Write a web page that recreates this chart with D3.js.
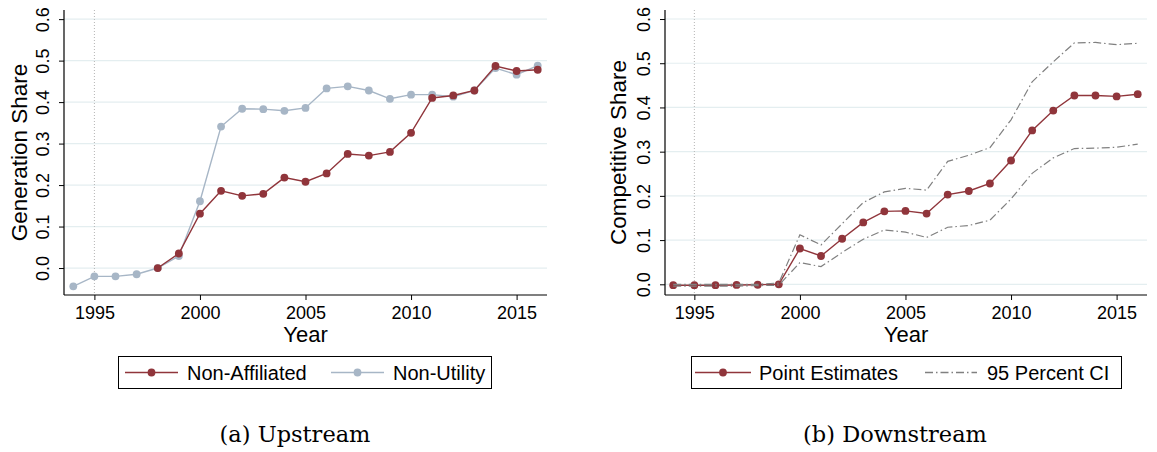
<!DOCTYPE html>
<html>
<head>
<meta charset="utf-8">
<script src="https://cdn.jsdelivr.net/npm/d3@7"></script>
<style>
  html, body { margin: 0; padding: 0; background: #fff; }
  svg { display: block; }
</style>
</head>
<body>
<svg id="chart" width="1157" height="452"></svg>
<script>
// Years shared by both panels
const years = d3.range(1994, 2017);
const xTicks = [1995, 2000, 2005, 2010, 2015];
const yTicks = [0.0, 0.1, 0.2, 0.3, 0.4, 0.5, 0.6];

// (a) Upstream: generation share
const nonUtility = [-0.044, -0.020, -0.020, -0.015, 0.000, 0.029, 0.161, 0.341, 0.384, 0.383,
                    0.379, 0.386, 0.433, 0.438, 0.428, 0.408, 0.418, 0.418, 0.413, 0.428,
                    0.482, 0.466, 0.488];
const nonAffiliated = [null, null, null, null, 0.000, 0.035, 0.131, 0.186, 0.174, 0.179,
                       0.218, 0.208, 0.228, 0.275, 0.271, 0.280, 0.326, 0.410, 0.416, 0.428,
                       0.487, 0.475, 0.478];

// (b) Downstream: competitive share with 95% confidence band
const pointEst = [-0.002, -0.002, -0.002, -0.0015, -0.001, 0.000, 0.081, 0.064, 0.103, 0.140,
                  0.165, 0.166, 0.160, 0.203, 0.211, 0.228, 0.280, 0.348, 0.393, 0.427,
                  0.427, 0.425, 0.430];
const ciUpper = [0.000, 0.000, 0.000, 0.000, 0.000, 0.003, 0.112, 0.089, 0.137, 0.185,
                 0.209, 0.217, 0.213, 0.278, 0.292, 0.309, 0.372, 0.458, 0.503, 0.546,
                 0.547, 0.542, 0.545];
const ciLower = [-0.004, -0.004, -0.004, -0.004, -0.003, -0.002, 0.049, 0.040, 0.072, 0.102,
                 0.123, 0.118, 0.106, 0.129, 0.133, 0.145, 0.193, 0.251, 0.286, 0.307,
                 0.308, 0.310, 0.317];

const RED = "#90353b";
const BLUE = "#a7b6c6";
const GREY = "#808080";
const GRID = "#e4eef0";
const SANS = "'Liberation Sans', Arial, sans-serif";
const MARKER_R = 3.9;

const svg = d3.select("#chart");

function panel(cfg) {
  const g = svg.append("g");
  const x = d3.scaleLinear().domain(cfg.xDomain).range([cfg.left, cfg.right]);
  const y = d3.scaleLinear().domain(cfg.yDomain).range([cfg.bottom, cfg.top]);

  // horizontal grid
  g.append("g").selectAll("line").data(yTicks).join("line")
    .attr("x1", cfg.left).attr("x2", cfg.right)
    .attr("y1", d => y(d)).attr("y2", d => y(d))
    .attr("stroke", GRID).attr("stroke-width", 1.2);

  // reference line at 1995
  g.append("line")
    .attr("x1", x(1995)).attr("x2", x(1995))
    .attr("y1", cfg.top).attr("y2", cfg.bottom)
    .attr("stroke", "#b4b4b4").attr("stroke-width", 1)
    .attr("stroke-dasharray", "1,2");

  // y axis
  const yAxis = g.append("g")
    .attr("transform", `translate(${cfg.left},0)`)
    .call(d3.axisLeft(y).tickValues(yTicks).tickFormat(d3.format(".1f")).tickSize(5).tickSizeOuter(0));
  yAxis.select(".domain").attr("d", `M0,${cfg.top}V${cfg.bottom}`).attr("stroke", "#000").attr("stroke-width", 1.2);
  yAxis.selectAll(".tick line").attr("stroke", "#000");
  yAxis.selectAll(".tick text")
    .attr("x", 0).attr("y", 0).attr("dy", null)
    .attr("transform", `translate(-21,0) rotate(-90)`)
    .attr("text-anchor", "middle")
    .attr("dominant-baseline", "central")
    .attr("font-family", SANS).attr("font-size", 18).attr("fill", "#000");

  // x axis
  const xAxis = g.append("g")
    .attr("transform", `translate(0,${cfg.bottom})`)
    .call(d3.axisBottom(x).tickValues(xTicks).tickFormat(d3.format("d")).tickSize(5).tickSizeOuter(0));
  xAxis.select(".domain").attr("d", `M${cfg.left},0H${cfg.right}`).attr("stroke", "#000").attr("stroke-width", 1.2);
  xAxis.selectAll(".tick line").attr("stroke", "#000");
  xAxis.selectAll(".tick text")
    .attr("y", 23.5).attr("dy", null)
    .attr("font-family", SANS).attr("font-size", 18).attr("fill", "#000");

  // axis titles
  g.append("text")
    .attr("transform", `translate(${cfg.left - cfg.yTitleOffset},${(cfg.top + cfg.bottom) / 2}) rotate(-90)`)
    .attr("text-anchor", "middle").attr("dominant-baseline", "central")
    .attr("font-family", SANS).attr("font-size", 22.5)
    .text(cfg.yTitle);
  g.append("text")
    .attr("x", (cfg.left + cfg.right) / 2).attr("y", 342)
    .attr("text-anchor", "middle")
    .attr("font-family", SANS).attr("font-size", 22)
    .text("Year");

  // panel caption
  g.append("text")
    .attr("x", cfg.captionX).attr("y", 442)
    .attr("text-anchor", "middle")
    .attr("font-family", "'DejaVu Serif', serif").attr("font-size", 22.5)
    .text(cfg.caption);

  return { g, x, y };
}

function drawSeries(p, values, color, opts = {}) {
  const pts = years.map((yr, i) => ({ yr, v: values[i] })).filter(d => d.v !== null);
  const line = d3.line().x(d => p.x(d.yr)).y(d => p.y(d.v));
  p.g.append("path").datum(pts)
    .attr("d", line)
    .attr("fill", "none")
    .attr("stroke", color)
    .attr("stroke-width", opts.width || 1.4)
    .attr("stroke-dasharray", opts.dash || null);
  if (opts.markers) {
    p.g.append("g").selectAll("circle").data(pts).join("circle")
      .attr("cx", d => p.x(d.yr)).attr("cy", d => p.y(d.v))
      .attr("r", MARKER_R).attr("fill", color);
  }
}

function legend(items, box) {
  const g = svg.append("g");
  g.append("rect")
    .attr("x", box.x).attr("y", box.y).attr("width", box.w).attr("height", box.h)
    .attr("fill", "#fff").attr("stroke", "#000").attr("stroke-width", 1);
  const cy = box.y + box.h / 2;
  items.forEach(it => {
    g.append("line")
      .attr("x1", it.x0).attr("x2", it.x1).attr("y1", cy).attr("y2", cy)
      .attr("stroke", it.color).attr("stroke-width", 1.4)
      .attr("stroke-dasharray", it.dash || null);
    if (it.marker) {
      g.append("circle").attr("cx", (it.x0 + it.x1) / 2).attr("cy", cy)
        .attr("r", MARKER_R).attr("fill", it.color);
    }
    g.append("text")
      .attr("x", it.tx).attr("y", cy).attr("dy", "0.36em")
      .attr("font-family", SANS).attr("font-size", 20)
      .text(it.label);
  });
}

// Panel (a)
const pa = panel({
  left: 64, right: 547, top: 10, bottom: 295,
  xDomain: [1993.56, 2016.44], yDomain: [-0.065, 0.622],
  yTitle: "Generation Share", yTitleOffset: 45,
  caption: "(a) Upstream", captionX: 295
});
drawSeries(pa, nonUtility, BLUE, { markers: true });
drawSeries(pa, nonAffiliated, RED, { markers: true });

// Panel (b)
const pb = panel({
  left: 665, right: 1147, top: 10, bottom: 295,
  xDomain: [1993.61, 2016.44], yDomain: [-0.0242, 0.6204],
  yTitle: "Competitive Share", yTitleOffset: 47,
  caption: "(b) Downstream", captionX: 895
});
drawSeries(pb, pointEst, RED, { markers: true });
drawSeries(pb, ciUpper, GREY, { dash: "8,3,1.5,3", width: 1.2 });
drawSeries(pb, ciLower, GREY, { dash: "8,3,1.5,3", width: 1.2 });

// Legends
legend([
  { x0: 125, x1: 178, color: RED, marker: true, tx: 187, label: "Non-Affiliated" },
  { x0: 331, x1: 384, color: BLUE, marker: true, tx: 393, label: "Non-Utility" }
], { x: 118.5, y: 356.5, w: 373, h: 32 });

legend([
  { x0: 695, x1: 751, color: RED, marker: true, tx: 759, label: "Point Estimates" },
  { x0: 925, x1: 977, color: GREY, dash: "8,3,1.5,3", tx: 987, label: "95 Percent CI" }
], { x: 691.5, y: 356.5, w: 430, h: 32 });
</script>
</body>
</html>
